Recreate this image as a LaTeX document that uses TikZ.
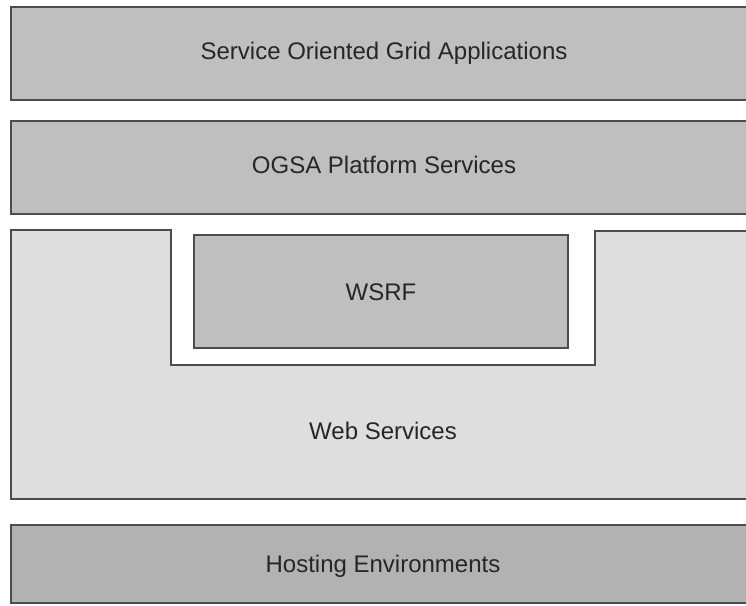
\documentclass[tikz,border=0pt]{standalone}
\usepackage{fontspec}
\setmainfont{Liberation Sans}
\begin{document}
\begin{tikzpicture}[x=1pt,y=-1pt,
  layer/.style={draw=black!70,line width=1.6pt},
  lbl/.style={font=\fontsize{24}{28}\selectfont,text=black!85,anchor=base}]
\useasboundingbox (0,0) rectangle (746,605);
\clip (0,0) rectangle (746,605);
\fill[white] (0,0) rectangle (746,605);
% application layer
\draw[layer,fill=black!25] (11,7) rectangle (760,100);
\node[lbl] (apps) at (384,59) {Service Oriented Grid Applications};
% platform services
\draw[layer,fill=black!25] (11,121) rectangle (760,214);
\node[lbl] (ogsa) at (384,173) {OGSA Platform Services};
% web services with notch
\draw[layer,fill=black!13] (11,230) -- (171,230) -- (171,365) -- (595,365) -- (595,231)
  -- (760,231) -- (760,499) -- (11,499) -- cycle;
\node[lbl] (ws) at (383,439) {Web Services};
% WSRF
\draw[layer,fill=black!25] (194,235) rectangle (568,348);
\node[lbl] (wsrf) at (381,300) {WSRF};
% hosting
\draw[layer,fill=black!30] (11,525) rectangle (760,603);
\node[lbl] (host) at (383,572) {Hosting Environments};
\end{tikzpicture}
\end{document}
